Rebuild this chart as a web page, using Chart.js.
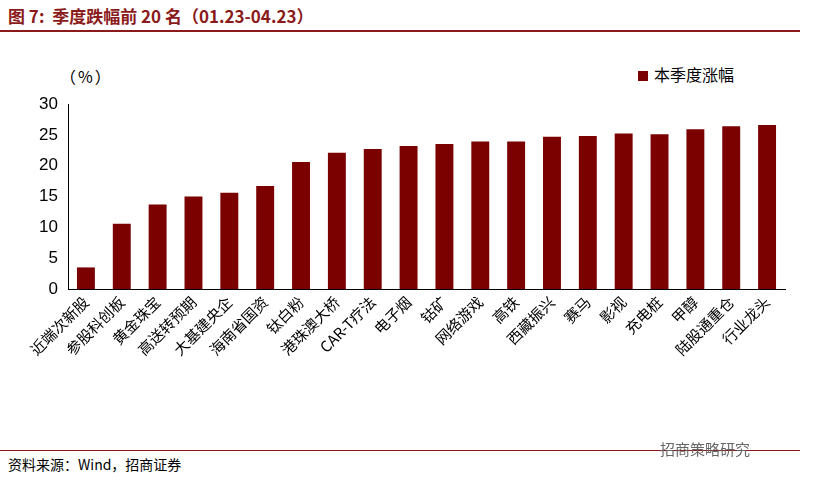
<!DOCTYPE html>
<html><head><meta charset="utf-8">
<script src="https://cdn.jsdelivr.net/npm/chart.js@4"></script>
<style>
body{margin:0;width:813px;height:483px;background:#fff;position:relative;font-family:"Noto Sans CJK SC",sans-serif;overflow:hidden}
#title{position:absolute;left:8px;top:3px;font-size:17px;font-weight:bold;color:#8B1A1A}
#rule1{position:absolute;left:0;top:30px;width:800px;height:2px;background:#8B1A1A}
#rule2{position:absolute;left:0;top:450px;width:800px;height:1px;background:#8B1A1A}
#src{position:absolute;left:8px;top:454px;font-size:14px;color:#000}
#unit{position:absolute;left:60px;top:64px;font-size:16px;letter-spacing:2px}
#leg{position:absolute;left:638px;top:62px;font-size:16px}
#leg span{display:inline-block;width:10px;height:10px;background:#7B0000;margin-right:6px}
#wm{position:absolute;left:660px;top:438px;font-size:15px;color:#666}
canvas{position:absolute;left:0;top:0}
</style></head><body>
<div id="title">图 7:&nbsp; 季度跌幅前 20 名（01.23-04.23）</div>
<div id="rule1"></div>
<div id="unit">（%）</div>
<div id="leg"><span></span>本季度涨幅</div>
<div style="position:absolute;left:0;top:0;width:813px;height:440px"><canvas id="c"></canvas></div>
<div id="rule2"></div>
<div id="src">资料来源：Wind，招商证券</div>
<div id="wm">招商策略研究</div>
<script>
const categories=["近端次新股","参股科创板","黄金珠宝","高送转预期","大基建央企","海南省国资","钛白粉","港珠澳大桥","CAR-T疗法","电子烟","钴矿","网络游戏","高铁","西藏振兴","赛马","影视","充电桩","甲醇","陆股通重仓","行业龙头"];
const values=[3.5,10.6,13.7,15.0,15.6,16.7,20.6,22.1,22.7,23.2,23.5,23.9,23.9,24.7,24.8,25.2,25.1,25.9,26.4,26.6];
const yTicks=[0,5,10,15,20,25,30];
new Chart(document.getElementById('c'),{type:'bar',
data:{labels:categories,datasets:[{label:'本季度涨幅',data:values,backgroundColor:'#7B0000',barPercentage:0.5,categoryPercentage:1}]},
options:{responsive:true,maintainAspectRatio:false,animation:false,
layout:{padding:{top:104,right:28,left:0,bottom:0}},
plugins:{legend:{display:false},tooltip:{enabled:false}},
scales:{
x:{grid:{display:false,drawTicks:false},border:{color:'#000'},
 ticks:{color:'#000',minRotation:45,maxRotation:45,padding:4,font:{family:'"Noto Sans CJK SC"',size:15}},
 afterFit:s=>{s.height=151;}},
y:{min:0,max:30,afterBuildTicks:s=>{s.ticks=yTicks.map(v=>({value:v}));},
 grid:{display:false,drawTicks:true,tickLength:4},border:{color:'#000'},
 ticks:{color:'#000',padding:6,font:{family:'"Liberation Sans"',size:17}},
 afterFit:s=>{s.width=68;}}
}}});
</script></body></html>
